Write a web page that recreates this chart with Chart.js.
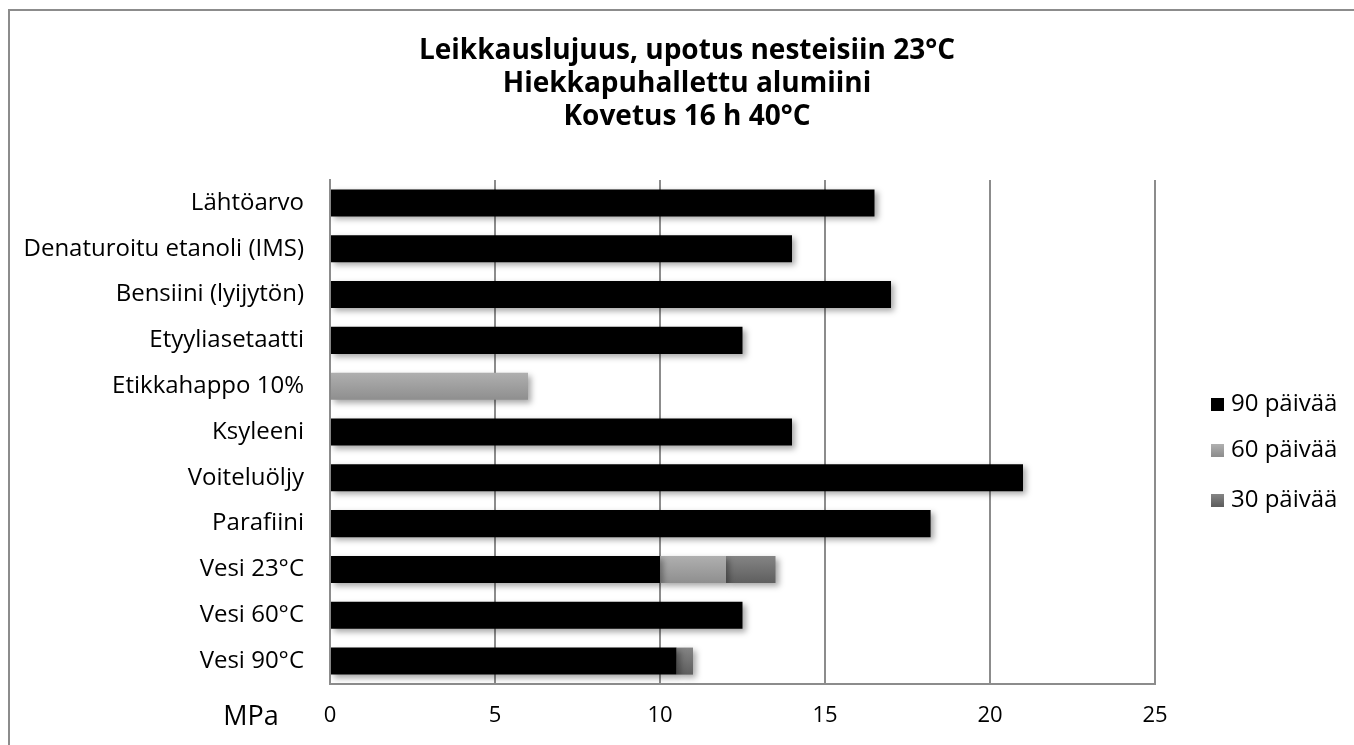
<!DOCTYPE html>
<html>
<head>
<meta charset="utf-8">
<script src="https://cdn.jsdelivr.net/npm/chart.js@4"></script>
<style>
  html, body { margin: 0; padding: 0; background: #fff; }
  #wrap { width: 1354px; height: 745px; position: relative; }
</style>
</head>
<body>
<div id="wrap"><canvas id="myChart" width="1354" height="745"></canvas></div>
<script>
// data
const categories = ["Lähtöarvo", "Denaturoitu etanoli (IMS)", "Bensiini (lyijytön)", "Etyyliasetaatti",
  "Etikkahappo 10%", "Ksyleeni", "Voiteluöljy", "Parafiini", "Vesi 23°C", "Vesi 60°C", "Vesi 90°C"];
const days90 = [16.5, 14, 17, 12.5, 0, 14, 21, 18.2, 10, 12.5, 10.5];
const days60 = [0, 0, 0, 0, 6, 0, 0, 0, 2, 0, 0];
const days30 = [0, 0, 0, 0, 0, 0, 0, 0, 1.5, 0, 0.5];
const seriesNames = ["90 päivää", "60 päivää", "30 päivää"];
const titleLines = ["Leikkauslujuus, upotus nesteisiin 23°C", "Hiekkapuhallettu alumiini", "Kovetus 16 h 40°C"];
const axisUnit = "MPa";

const FONT = "'Open Sans', sans-serif";

// vertical gradient over each bar
function barGradient(top, bottom) {
  return (ctx) => {
    const chart = ctx.chart;
    const y = chart.scales.y;
    if (!y || !chart.chartArea || ctx.dataIndex === undefined) return bottom;
    const cy = y.getPixelForValue(ctx.dataIndex);
    const half = 14;
    const g = chart.ctx.createLinearGradient(0, cy - half, 0, cy + half);
    g.addColorStop(0, top);
    g.addColorStop(1, bottom);
    return g;
  };
}

const swatchTop = ["#000000", "#b0b0b0", "#858585"];
const swatchBottom = ["#000000", "#8e8e8e", "#5e5e5e"];

const decor = {
  id: "decor",
  beforeDraw(chart) {
    const c = chart.ctx;
    c.save();
    c.strokeStyle = "#8c8c8c";
    c.lineWidth = 2;
    c.strokeRect(9, 10, 1400, 800);
    // title
    c.fillStyle = "#000";
    c.font = "bold 28px " + FONT;
    c.textAlign = "center";
    c.textBaseline = "middle";
    titleLines.forEach((t, i) => c.fillText(t, 687, 51 + i * 33));
    c.restore();
  },
  beforeDatasetsDraw(chart) {
    const c = chart.ctx;
    c.save();
    c.shadowColor = "rgba(0,0,0,0.35)";
    c.shadowBlur = 6;
    c.shadowOffsetX = 3;
    c.shadowOffsetY = 3;
  },
  afterDatasetsDraw(chart) {
    chart.ctx.restore();
  },
  afterDraw(chart) {
    const c = chart.ctx;
    c.save();
    // unit label left of the first tick
    c.fillStyle = "#000";
    c.font = "27px " + FONT;
    c.textAlign = "center";
    c.textBaseline = "middle";
    c.fillText(axisUnit, 251, 717);
    // legend
    c.font = "24px " + FONT;
    c.textAlign = "left";
    const ys = [404, 450, 500];
    chart.data.datasets.forEach((ds, i) => {
      const g = c.createLinearGradient(0, ys[i] - 6, 0, ys[i] + 6);
      g.addColorStop(0, swatchTop[i]);
      g.addColorStop(1, swatchBottom[i]);
      c.fillStyle = g;
      c.fillRect(1211, ys[i] - 6, 13, 13);
      c.fillStyle = "#000";
      c.fillText(ds.label, 1231, ys[i]);
    });
    c.restore();
  }
};

new Chart(document.getElementById("myChart"), {
  type: "bar",
  data: {
    labels: categories,
    datasets: [
      { label: seriesNames[0], data: days90, backgroundColor: "#000000" },
      { label: seriesNames[1], data: days60, backgroundColor: barGradient("#b0b0b0", "#8e8e8e") },
      { label: seriesNames[2], data: days30, backgroundColor: barGradient("#858585", "#5e5e5e") }
    ]
  },
  options: {
    indexAxis: "y",
    responsive: false,
    animation: false,
    layout: { padding: { left: 0, right: 199, top: 180, bottom: 0 } },
    datasets: { bar: { categoryPercentage: 1, barPercentage: 0.59, borderWidth: 0 } },
    plugins: {
      legend: { display: false },
      tooltip: { enabled: false },
      title: { display: false }
    },
    scales: {
      x: {
        stacked: true,
        min: 0,
        max: 25,
        ticks: { stepSize: 5, color: "#000", padding: 19, font: { family: FONT, size: 22 } },
        grid: { color: "#8c8c8c", lineWidth: 2, drawTicks: false },
        border: { color: "#8c8c8c", width: 2 },
        afterFit(scale) { scale.height = 61; }
      },
      y: {
        stacked: true,
        ticks: { color: "#000", padding: 26, font: { family: FONT, size: 24 } },
        grid: { display: false, drawTicks: false },
        border: { color: "#8c8c8c", width: 2 },
        afterFit(scale) { scale.width = 330; }
      }
    }
  },
  plugins: [decor]
});
</script>
</body>
</html>
